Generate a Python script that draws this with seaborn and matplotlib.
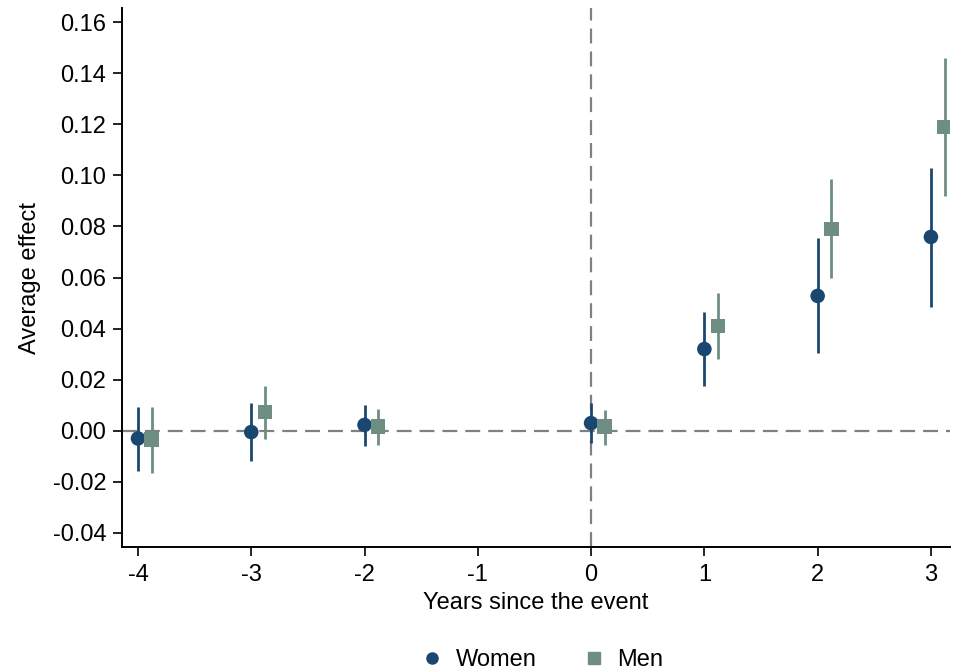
import matplotlib
matplotlib.use("Agg")
import matplotlib.pyplot as plt
import pandas as pd
import numpy as np
import seaborn as sns
from matplotlib.lines import Line2D

years = [-4, -3, -2, 0, 1, 2, 3]
women_est = [-0.003, -0.0005, 0.0023, 0.003, 0.032, 0.0528, 0.0759]
women_lo = [-0.0157, -0.012, -0.006, -0.0047, 0.0176, 0.0305, 0.0485]
women_hi = [0.0094, 0.011, 0.010, 0.011, 0.0466, 0.0755, 0.1029]
men_est = [-0.0035, 0.0074, 0.0016, 0.0016, 0.041, 0.079, 0.119]
men_lo = [-0.0164, -0.0032, -0.0055, -0.0054, 0.028, 0.0598, 0.092]
men_hi = [0.0094, 0.0176, 0.0086, 0.0082, 0.054, 0.0986, 0.146]

women_col = "#1a476f"
men_col = "#6e8e84"
shift = 0.12

df = pd.concat([
    pd.DataFrame({"year": years, "est": women_est, "lo": women_lo, "hi": women_hi, "group": "Women"}),
    pd.DataFrame({"year": np.array(years) + shift, "est": men_est, "lo": men_lo, "hi": men_hi, "group": "Men"}),
])

sns.set_style("ticks")
plt.rcParams["font.family"] = ["Liberation Sans", "DejaVu Sans"]
plt.rcParams["axes.unicode_minus"] = False
plt.rcParams["text.color"] = "black"
plt.rcParams["axes.labelcolor"] = "black"

fig = plt.figure(figsize=(9.54, 6.72), dpi=100)
ax = fig.add_axes([0.128, 0.186, 0.868, 0.802])

ax.axhline(0, color="#808080", lw=1.6, ls=(0, (6.7, 3.6)), zorder=1)
ax.axvline(0, color="#808080", lw=1.6, ls=(0, (6.7, 3.6)), zorder=1)

pal = {"Women": women_col, "Men": men_col}
for g, sub in df.groupby("group"):
    ax.vlines(sub["year"], sub["lo"], sub["hi"], color=pal[g], lw=2, zorder=2)

sns.scatterplot(data=df, x="year", y="est", hue="group", style="group",
                palette=pal, markers={"Women": "o", "Men": "s"},
                s=110, linewidth=0, legend=False, ax=ax, zorder=3)

ax.set_xlim(-4.14, 3.17)
ax.set_ylim(-0.0455, 0.1655)
ax.set_xticks([-4, -3, -2, -1, 0, 1, 2, 3])
ax.set_yticks(np.arange(-0.04, 0.161, 0.02))
ax.set_yticklabels([f"{v:.2f}" for v in np.arange(-0.04, 0.161, 0.02)])
ax.tick_params(labelsize=17, length=6.5, width=1.2, color="black", labelcolor="black")
ax.tick_params(axis="y", pad=5)
ax.tick_params(axis="x", pad=6)
ax.set_xlabel("Years since the event", fontsize=17, labelpad=4)
ax.set_ylabel("Average effect", fontsize=17, labelpad=8)
sns.despine(ax=ax)
for s in ["left", "bottom"]:
    ax.spines[s].set_color("black")
    ax.spines[s].set_linewidth(1.4)

handles = [
    Line2D([], [], ls="none", marker="o", color=women_col, markersize=8),
    Line2D([], [], ls="none", marker="s", color=men_col, markersize=8),
]
fig.legend(handles, ["Women", "Men"], loc="lower center", bbox_to_anchor=(0.568, -0.03),
           ncol=2, frameon=False, fontsize=17, handlelength=1.0, handletextpad=0.5,
           columnspacing=1.9)

fig.savefig("out.png", dpi=100, facecolor="white")
